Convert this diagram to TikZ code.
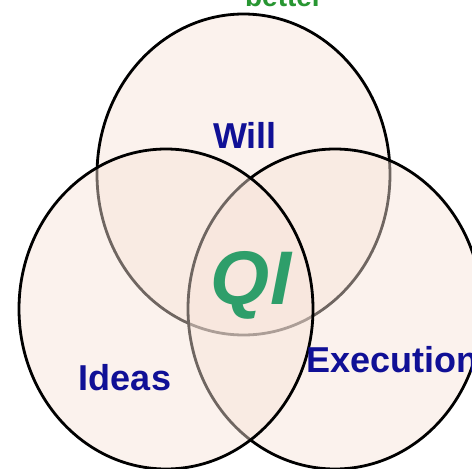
\documentclass[tikz,border=0pt]{standalone}
\usepackage{fontspec}
\setmainfont{Liberation Sans}
\definecolor{vennfill}{RGB}{248,228,217}
\definecolor{labelblue}{RGB}{16,16,150}
\definecolor{qigreen}{RGB}{46,158,106}
\definecolor{topgreen}{RGB}{40,150,50}
\tikzset{
  venn/.style={draw=black, line width=2.8pt, fill=vennfill, fill opacity=0.45},
  setlabel/.style={text=labelblue, font=\bfseries\fontsize{36}{40}\selectfont, inner sep=0pt},
  qilabel/.style={text=qigreen, font=\bfseries\itshape\fontsize{76}{80}\selectfont, inner sep=0pt},
  toplabel/.style={text=topgreen, font=\bfseries\fontsize{28}{32}\selectfont, inner sep=0pt}
}
\begin{document}
\begin{tikzpicture}[x=1pt,y=-1pt]
\useasboundingbox (0,0) rectangle (472,469);
\clip (0,0) rectangle (472,469);
\fill[white] (0,0) rectangle (472,469);
% circles: top (Will), right (Execution), left (Ideas)
\path[venn] (243.5,174.5) ellipse [x radius=146.5pt, y radius=160.5pt];
\path[venn] (335,309) ellipse [x radius=147pt, y radius=160pt];
\path[venn] (166,309) ellipse [x radius=147pt, y radius=160pt];
% labels
\node[toplabel, anchor=base] (better) at (284,6) {better};
\node[setlabel, anchor=base] (will) at (245,148) {Will};
\node[setlabel, anchor=base] (ideas) at (125,390) {Ideas};
\node[setlabel, anchor=base west] (execution) at (306,372) {Execution};
\node[qilabel, anchor=base] (qi) at (251,304) {QI};
\end{tikzpicture}
\end{document}
